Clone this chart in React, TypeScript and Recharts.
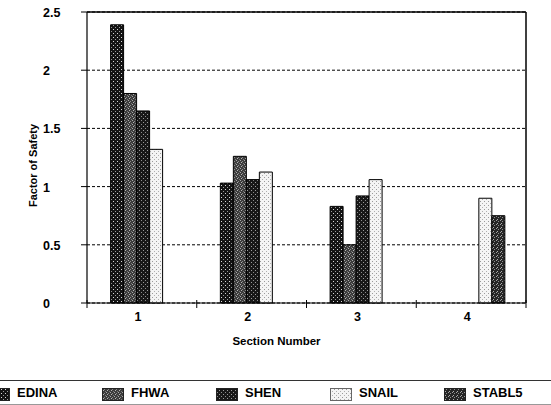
import React from 'react';
import { BarChart, Bar, XAxis, YAxis, CartesianGrid } from 'recharts';

const categories = ['1', '2', '3', '4'];
const edina = [2.39, 1.03, 0.83, null];
const fhwa = [1.8, 1.26, 0.5, null];
const shen = [1.65, 1.06, 0.92, null];
const snail = [1.32, 1.125, 1.06, 0.9];
const stabl5 = [null, null, null, 0.75];
const yTicks = [0, 0.5, 1, 1.5, 2, 2.5];
const seriesNames = ['EDINA', 'FHWA', 'SHEN', 'SNAIL', 'STABL5'];

const W = 551;
const H = 405;
const MARGIN = { top: 11, right: 24, left: 0, bottom: 72 };
const Y_AXIS_W = 87;
const X_AXIS_H = 30;
const PLOT_W = W - MARGIN.right - 1 - MARGIN.left - Y_AXIS_W;
const FONT = '"Liberation Sans", Arial, sans-serif';

const seriesValues = [edina, fhwa, shen, snail, stabl5];
const patternIds = ['pEdina', 'pFhwa', 'pShen', 'pSnail', 'pStabl5'];

const data = categories.map((c, i) => {
  const row: Record<string, any> = { cat: c };
  seriesNames.forEach((n, s) => {
    row[n] = seriesValues[s][i];
  });
  return row;
});

function Patterns() {
  return (
    <defs>
      <pattern id="pEdina" width="4" height="4" patternUnits="userSpaceOnUse">
        <rect width="4" height="4" fill="#141414" />
        <rect x="1" y="1" width="1" height="1" fill="#d8d8d8" />
        <rect x="3" y="3" width="1" height="1" fill="#9a9a9a" />
      </pattern>
      <pattern id="pFhwa" width="4" height="4" patternUnits="userSpaceOnUse">
        <rect width="4" height="4" fill="#3c3c3c" />
        <rect x="0" y="0" width="1" height="1" fill="#a8a8a8" />
        <rect x="2" y="1" width="1" height="1" fill="#8a8a8a" />
        <rect x="1" y="2" width="1" height="1" fill="#b5b5b5" />
        <rect x="3" y="3" width="1" height="1" fill="#7a7a7a" />
      </pattern>
      <pattern id="pShen" width="4" height="4" patternUnits="userSpaceOnUse">
        <rect width="4" height="4" fill="#181818" />
        <rect x="1" y="0" width="1" height="1" fill="#8c8c8c" />
        <rect x="3" y="2" width="1" height="1" fill="#9c9c9c" />
      </pattern>
      <pattern id="pSnail" width="4" height="4" patternUnits="userSpaceOnUse">
        <rect width="4" height="4" fill="#f4f4f4" />
        <rect x="0" y="1" width="1" height="1" fill="#9a9a9a" />
        <rect x="2" y="3" width="1" height="1" fill="#b0b0b0" />
      </pattern>
      <pattern id="pStabl5" width="4" height="4" patternUnits="userSpaceOnUse">
        <rect width="4" height="4" fill="#262626" />
        <rect x="0" y="0" width="1" height="1" fill="#a0a0a0" />
        <rect x="2" y="1" width="1" height="1" fill="#8e8e8e" />
        <rect x="1" y="3" width="1" height="1" fill="#b0b0b0" />
      </pattern>
    </defs>
  );
}

function XTick(props: any) {
  const { x, y, payload, index } = props;
  const axisY = y - 8;
  const half = PLOT_W / categories.length / 2;
  return (
    <g>
      <line x1={x - half} x2={x - half} y1={axisY - 3} y2={axisY + 5} stroke="#000" />
      {index === categories.length - 1 && (
        <line x1={x + half} x2={x + half} y1={axisY - 3} y2={axisY + 5} stroke="#000" />
      )}
      <text
        x={x - 4}
        y={axisY + 18}
        textAnchor="middle"
        fontFamily={FONT}
        fontSize={12.5}
        fontWeight="bold"
        fill="#000"
      >
        {payload.value}
      </text>
    </g>
  );
}

function YTick(props: any) {
  const { y, payload } = props;
  return (
    <text x={43} y={y + 5} textAnchor="start" fontFamily={FONT} fontSize={12.5} fontWeight="bold" fill="#000">
      {String(payload.value)}
    </text>
  );
}

function YLabel(props: any) {
  const vb = props.viewBox || { x: 0, y: MARGIN.top, width: Y_AXIS_W, height: 291 };
  const cx = vb.x + 33;
  const cy = vb.y + vb.height / 2 + 8;
  return (
    <text
      x={cx}
      y={cy}
      transform={`rotate(-90, ${cx}, ${cy})`}
      textAnchor="middle"
      dominantBaseline="central"
      fontFamily={FONT}
      fontSize={11}
      fontWeight="bold"
      fill="#000"
    >
      Factor of Safety
    </text>
  );
}

function XLabel(props: any) {
  const vb = props.viewBox || { x: Y_AXIS_W, y: 303, width: PLOT_W, height: X_AXIS_H };
  return (
    <text
      x={vb.x + vb.width / 2 - 30}
      y={vb.y + 42}
      textAnchor="middle"
      fontFamily={FONT}
      fontSize={11.5}
      fontWeight="bold"
      fill="#000"
    >
      Section Number
    </text>
  );
}

function LegendBox() {
  return (
    <div
      style={{
        position: 'absolute',
        left: 0,
        top: 380,
        width: W,
        height: 23,
        borderTop: '1.5px solid #333',
        borderBottom: '1px solid #999',
        fontFamily: FONT,
      }}
    >
      {seriesNames.map((n, i) => {
        const left = -12 + 114 * i;
        return (
          <div key={n}>
            <svg
              width={22}
              height={13}
              style={{ position: 'absolute', left, top: 7 }}
            >
              <rect
                x={0.5}
                y={0.5}
                width={21}
                height={12}
                fill={`url(#${patternIds[i]})`}
                stroke={n === 'SNAIL' ? '#666' : '#222'}
              />
            </svg>
            <span
              style={{
                position: 'absolute',
                left: left + 29,
                top: 4,
                fontSize: 13,
                fontWeight: 'bold',
                lineHeight: '16px',
                color: '#000',
              }}
            >
              {n}
            </span>
          </div>
        );
      })}
    </div>
  );
}

export default function App() {
  return (
    <div style={{ position: 'absolute', left: 0, top: 0, width: W, height: H, background: '#fff' }}>
      <BarChart
        width={W}
        height={H}
        data={data}
        margin={MARGIN}
        barCategoryGap={23.6}
        barGap={0}
      >
        <Patterns />
        <CartesianGrid vertical={false} stroke="#000" strokeDasharray="3 2" />
        <XAxis
          dataKey="cat"
          height={X_AXIS_H}
          axisLine={{ stroke: '#000', strokeWidth: 1.2 }}
          tickLine={false}
          tick={<XTick />}
          interval={0}
          label={XLabel}
        />
        <XAxis
          xAxisId="top"
          dataKey="cat"
          orientation="top"
          height={1}
          tick={false}
          tickLine={false}
          axisLine={{ stroke: '#000', strokeWidth: 1.5 }}
        />
        <YAxis
          width={Y_AXIS_W}
          domain={[0, 2.5]}
          ticks={yTicks}
          axisLine={{ stroke: '#000', strokeWidth: 1.2 }}
          tickLine={{ stroke: '#000' }}
          tickSize={6}
          tick={<YTick />}
          interval={0}
          label={YLabel}
        />
        <YAxis
          yAxisId="r"
          orientation="right"
          width={1}
          domain={[0, 2.5]}
          ticks={yTicks}
          tick={false}
          tickLine={false}
          axisLine={{ stroke: '#000', strokeWidth: 1.5 }}
        />
        {seriesNames.map((n, i) => (
          <Bar
            key={n}
            dataKey={n}
            name={n}
            fill={`url(#${patternIds[i]})`}
            stroke="#000"
            strokeWidth={1}
            isAnimationActive={false}
          />
        ))}
      </BarChart>
      <LegendBox />
    </div>
  );
}
